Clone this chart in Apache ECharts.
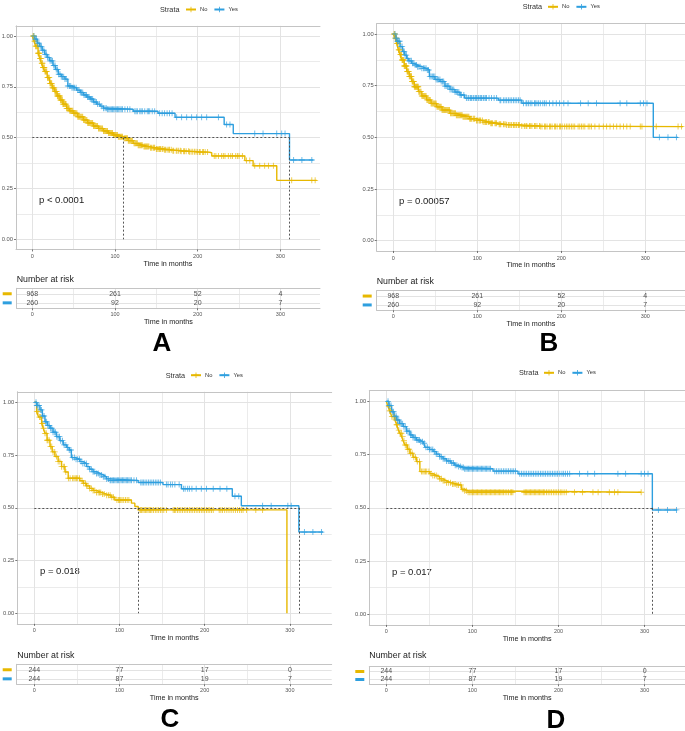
<!DOCTYPE html>
<html>
<head>
<meta charset="utf-8">
<script src="https://cdn.jsdelivr.net/npm/echarts@6/dist/echarts.min.js"></script>
<style>
  html, body { margin: 0; padding: 0; background: #fff; }
  #km { width: 685px; height: 731px; }
</style>
</head>
<body>
<div id="km"></div>
<script>
// colours of the two strata
const COL_NO = '#E7B800';
const COL_YES = '#2E9FDF';
const strata = ['No', 'Yes'];

// axis ticks
const xTicks = [0, 100, 200, 300];
const xMinor = [50, 150, 250];
const yTicks = [0, 0.25, 0.5, 0.75, 1];
const yMinor = [0.125, 0.375, 0.625, 0.875];

// ---- panel A : KM curves [months, survival] ----
const aNo = [[0,1],[2,0.975],[4,0.95],[7,0.915],[9,0.89],[11,0.866],[13,0.845],[15,0.825],[18,0.795],[21,0.767],[24,0.745],[27,0.726],[30,0.705],[33.5,0.685],[37,0.665],[41.5,0.644],[45,0.632],[49.6,0.62],[55,0.603],[61.7,0.587],[67,0.572],[73.8,0.557],[80,0.545],[86,0.533],[92,0.523],[98,0.513],[104,0.505],[110,0.497],[116,0.485],[122,0.472],[128,0.463],[134,0.456],[142,0.45],[150,0.444],[160,0.44],[170,0.436],[180,0.433],[190,0.431],[200,0.429],[213,0.426],[217,0.41],[257,0.387],[267,0.362],[295.6,0.29],[344,0.29]];
const aYes = [[0,1],[3,0.985],[6,0.965],[9,0.948],[12,0.93],[15,0.91],[18,0.895],[21,0.878],[25,0.855],[28,0.835],[31.5,0.812],[35,0.8],[39.5,0.788],[43,0.754],[48,0.745],[53.6,0.734],[58,0.722],[62,0.71],[66,0.7],[70,0.69],[74,0.675],[78,0.665],[82,0.655],[86,0.645],[90,0.64],[122,0.63],[152,0.62],[172.6,0.6],[232,0.565],[243,0.52],[311,0.39],[340,0.39]];
const aNoCens = [1,1.8,2.5,3.3,4,4.8,5.5,6.3,7,7.8,8.5,9.3,10,10.8,11.5,12.3,13,13.8,14.5,15.3,16,16.8,17.5,18.3,19,19.8,20.5,21.3,22,22.8,23.5,24.3,25,25.8,26.5,27.3,28,28.8,29.5,30.3,31,31.8,32.5,33.3,34,34.8,35.5,36.3,37,37.8,38.5,39.3,40,40.8,41.5,42.3,43,43.8,44.5,45.3,46,47,48,49,50,51,52,53,54,55,56,57,58,59,60,61,62,63,64,65,66,67,68,69,70,71,72,73,74,75,76,77,78,79,80,81,82,83,84,85,86,87,88,89,90,91,92,93,94,95,96,97,98,99,100,101,102,103,104,105,106,107,108,109,111,112,113,114,115,116,117,118,119,120,121,123,124,125,126,127,128,129,130,131,132,133,135,136,137,138,139,140,141,143,144,146,147,148,150,151,153,154,155,157,158,160,161,163,165,166,168,170,171,174,175,177,179,180,183,184,186,189,190,192,194,196,198,200,202,203,206,207,209,212,220,222,225,229,231,233,237,240,242,246,248,250,254,259,263,269,275,281,285.5,291.5,313.7,338,342];
const aYesCens = [2,3.5,5,6.5,8,9.5,11,12.5,14,15.5,17,18.5,20,21.5,23,24.5,26,27.5,29,30.5,32,33.5,35,36.5,38,39.5,41,43,45,46.5,48,49.5,51,53,55,56.5,58,59.5,61,62.5,64,65.5,67,68.5,70,71.5,73,74.5,76,77.5,79,81,84,86,88,89.5,91,92.5,94,95.5,97,98.5,100,101.5,103,104.5,106,107.5,109,112,115,118,124,125.5,127,130,131.5,133,136,139,140.5,142,145,148,154,157,160,163,166,169,174.6,180.6,186.7,192.7,198.8,204.8,210.9,225,235,239,269,279,295.6,301.6,305.6,316,326,338];
const aMedian = [110, 311];

// ---- panel B ----
const bNo = [[0,1],[2,0.98],[4,0.955],[6,0.923],[8,0.9],[10,0.874],[13,0.845],[15.9,0.818],[19,0.795],[21.8,0.77],[25,0.745],[29.8,0.721],[34,0.7],[39.7,0.681],[45,0.664],[51.6,0.648],[58,0.632],[67.5,0.616],[75,0.607],[83,0.6],[91,0.59],[99,0.581],[107,0.574],[115,0.568],[125,0.563],[135,0.56],[151,0.555],[175,0.552],[345,0.552]];
const bYes = [[0,1],[3,0.98],[5,0.965],[8,0.939],[11,0.915],[13.5,0.898],[15.9,0.882],[18.5,0.87],[21.8,0.858],[25,0.85],[27.8,0.842],[33.7,0.834],[39.7,0.826],[43,0.794],[49.6,0.78],[55.6,0.77],[61.5,0.748],[67.5,0.732],[73.4,0.719],[79.4,0.705],[85,0.69],[125,0.68],[153,0.665],[309.5,0.5],[339,0.5]];
const bNoCens = [1,1.7,2.4,3,3.7,4.4,5,5.7,6.4,7,7.7,8.4,9,9.7,10.4,11,11.7,12.4,13,13.7,14.4,15,15.7,16.4,17,17.7,18.4,19,19.7,20.4,21,21.7,22.4,23,23.7,24.4,25,25.7,26.4,27,27.7,28.4,29,29.7,30.4,31,32,33,34,35,36,37,38,39,40,41,42,43,44,45,46,47,48,49,50,51,52,53,54,55,56,57,58,59,60,61,62,63,64,65,66,67,68,69,70,71,72,73,74,75,76,77,78,79,80,81,82,83,84,85,86,87,88,89,90,91,92,93,95,96,97,99,100,102,103,104,106,107,109,110,111,113,114,116,117,118,121,122,123,126,127,128,131,132,134,135,137,138,140,141,143,144,146,147,149,150,153,156,158,159,162,163,165,168,169,171,174,175,177,180,181,183,186,187,189,192,193,195,198,199,201,204,206,208,210,212,214,216,220,222,224,226,228,232,234,236,240,245,250,254,258,262,266,270,274,278,282,294,296,313,339,343];
const bYesCens = [2,3,4,5,6,7.5,9,10.5,12,13,14,15.5,17,18.5,20,21.5,23,24.5,26,27.5,29,30.5,32,34,36,37.5,39,40.5,42,43.5,45,46.5,48,49.5,51,52.5,54,55.5,57,58.5,60,61.5,63,64.5,66,67.5,69,70.5,72,73.5,75,76.5,78,79.5,81,84,87,89,90,92,93,95,96,98,99,101,102,104,105,107,108,110,111,114,117,120,123,127,128,131,133,135,137,139,141,143,145,147,149,151,155,158,159,161,163,165,168,169,171,173,175,178,180,182,186,190,194,198,203,208,223,232,242,270,278,294,298,302,316.7,327,337];
const bMedian = [];

// ---- panel C ----
const cNo = [[0,1],[2.7,0.956],[5,0.93],[8.6,0.9],[10.5,0.877],[12.5,0.853],[15,0.82],[18.4,0.79],[21,0.765],[24.2,0.743],[28,0.72],[32,0.695],[36,0.67],[39.8,0.64],[53.5,0.628],[57.4,0.616],[61,0.604],[65,0.592],[69,0.582],[73,0.573],[79,0.565],[84.8,0.56],[90,0.55],[94.5,0.537],[114,0.522],[118,0.506],[122,0.49],[296.5,0]];
const cYes = [[0,1],[3,0.985],[6.6,0.964],[9.5,0.935],[12.5,0.908],[15.5,0.89],[18.4,0.877],[22,0.858],[26,0.837],[30,0.818],[34,0.798],[38,0.786],[41,0.774],[43.5,0.738],[48,0.73],[53.5,0.719],[57,0.71],[61.3,0.695],[65,0.683],[69,0.671],[73,0.663],[77,0.656],[81,0.647],[84.8,0.637],[88.7,0.63],[121.9,0.62],[151,0.61],[172.7,0.59],[232.4,0.555],[243,0.51],[310.5,0.385],[339,0.385]];
const cNoCens = [3,4.5,6,7.5,9,10,11,12.5,14,15,16,17.5,19,20.5,22,24,26,28,30,32,34,35.5,37,40,42,45,46.5,48,49.5,51,53,56,58,60,61.5,63,65,67,69,71,73,75,76.5,78,80,82,85,87,89,91,93,97,99,100,101.5,103,105,107,109,111,124,125,126,127.5,129,130.5,132,133.5,135,136.5,138,140,142,144,146,148,150,152,155,163,164.5,166,168,170,172,174,176,178,180,182,184,186,188,190,192,194,196,198,200,202,204,206,208,210,217,219,221,223.5,226,228.5,231,233.5,236,238.5,241,243,245,249,260,268];
const cYesCens = [2,3,4,5.5,7,8.5,10,11.5,13,14.5,16,17.5,19,20.5,22,23.5,25,26.5,28,29.5,31,33,35,37,39,41,43,45,47,49,51,53,55,57,59,61,63,65,67,69,71,73,75,77,79,81,83,85,87,89,90,91.5,93,94.5,96,97.5,99,100.5,102,103.5,105,106.5,108,109.5,111,112.5,114,117,120,125,126.5,128,130,132,134,136,138,140,142,144,146,148,155,157,160,162,165,170,175,177,180,182,185,190,196,202,210,218,226,235.5,240,268,278,297.6,301.5,317,327,337];
const cMedian = [122, 310.5];

// ---- panel D ----
const dNo = [[0,1],[2,0.975],[4,0.955],[6.2,0.928],[10,0.912],[12,0.89],[14,0.865],[16,0.85],[17.8,0.834],[19.5,0.815],[21.6,0.795],[24.5,0.775],[27.4,0.756],[31,0.737],[35,0.717],[39,0.67],[50.6,0.66],[54,0.652],[58.3,0.646],[62,0.636],[66,0.627],[70,0.618],[75,0.612],[81.5,0.607],[87.3,0.587],[91,0.58],[95,0.573],[296,0.573]];
const dYes = [[0,1],[3,0.98],[6.2,0.951],[9,0.93],[12,0.912],[15.5,0.895],[19.7,0.881],[23.5,0.86],[27.4,0.842],[31,0.83],[35,0.818],[39,0.81],[42.9,0.803],[45,0.784],[50,0.774],[54.4,0.764],[58,0.752],[62,0.74],[66,0.73],[70,0.72],[75,0.71],[79.5,0.7],[83,0.694],[87.3,0.689],[90,0.683],[124,0.672],[153,0.66],[309,0.49],[338,0.49]];
const dNoCens = [3,4,5,6.5,8,9.5,11,12,13,14.5,16,17.5,19,20.5,22,23.5,25,26.5,28,30,32,34,36,38.5,41,42.5,44,45.5,47,49.5,52,54,56,58,60,62,64,66,68,70,72,74.5,77,78.5,80,82,84,86.5,89,91,93,95,97,98.5,100,101.5,103,104.5,106,107.5,109,110.5,112,113.5,115,116.5,118,119.5,121,122.5,124,125.5,127,128.5,130,131.5,133,134.5,136,138,140,142,144,145.5,147,160,161.5,163,164.5,166,167.5,169,170.5,172,173.5,175,176.5,178,179.5,181,182.5,184,186,188,190,192,194,196,198,200,202,204,206.5,209,218.5,228,240,246,259,265,269,296];
const dYesCens = [2,3,4,5.5,7,8.5,10,11.5,13,14.5,16,17.5,19,20.5,22,23.5,25,26.5,28,29.5,31,32.5,34,35.5,37,38.5,40,42,44,46,48,50,52,54,56,58,60,62,64,66,68,70,72,74,76,78,80,82,84,86,88,89.5,91,92.5,94,95.5,97,98.5,100,101.5,103,104.5,106,107.5,109,110.5,112,113.5,115,116.5,118,119.5,121,126,128,130,132,134,136,138,140,142,144,146,148,150,155,157,159,161,163,165,167,169,171,173,175,177,179,181,183,185,187,189,191,193,195,197,199,201.5,204,206,208,210.5,213,224.5,234,242,269,278,296,300,304,316,326.6,337];
const dMedian = [309];

// number at risk (at xTicks)
const abRiskNo = [968, 261, 52, 4];
const abRiskYes = [260, 92, 20, 7];
const cdRiskNo = [244, 77, 17, 0];
const cdRiskYes = [244, 87, 19, 7];

const pValues = ['p < 0.0001', 'p = 0.00057', 'p = 0.018', 'p = 0.017'];
const letters = ['A', 'B', 'C', 'D'];

// pixel layout measured on the figure
const layouts = [
  { x0: 32.3, ppm: 0.827, left: 16, right: 320, y1: 36, y0: 239.3, tLeft: 16.7, tTop: 288.3, tBot: 308.3,
    nar: [16.7, 280], pv: [39, 200], letter: [162, 344], strataTxt: [160, 10], leg: [185, 10] },
  { x0: 393.3, ppm: 0.84, left: 376.7, right: 685, y1: 34, y0: 240.7, tLeft: 376.7, tTop: 290.7, tBot: 310.3,
    nar: [376.7, 281.7], pv: [399, 201], letter: [549, 344], strataTxt: [522.7, 7.3], leg: [547, 7.3] },
  { x0: 34.3, ppm: 0.852, left: 17.3, right: 331.7, y1: 402.3, y0: 613.3, tLeft: 16.7, tTop: 664.3, tBot: 684.3,
    nar: [17.3, 656], pv: [40, 571.7], letter: [170, 720], strataTxt: [165.7, 375.7], leg: [190, 375.7] },
  { x0: 386.3, ppm: 0.861, left: 369.3, right: 685, y1: 401.3, y0: 614.3, tLeft: 369.3, tTop: 666.7, tBot: 684.3,
    nar: [369.3, 656], pv: [392, 572.3], letter: [556, 721], strataTxt: [519, 373.3], leg: [543, 373.3] }
];

const panels = [
  { no: aNo, yes: aYes, noC: aNoCens, yesC: aYesCens, med: aMedian, rNo: abRiskNo, rYes: abRiskYes },
  { no: bNo, yes: bYes, noC: bNoCens, yesC: bYesCens, med: bMedian, rNo: abRiskNo, rYes: abRiskYes },
  { no: cNo, yes: cYes, noC: cNoCens, yesC: cYesCens, med: cMedian, rNo: cdRiskNo, rYes: cdRiskYes },
  { no: dNo, yes: dYes, noC: dNoCens, yesC: dYesCens, med: dMedian, rNo: cdRiskNo, rYes: cdRiskYes }
];

const FONT = 'Liberation Sans, Arial, sans-serif';
const GRID = '#e3e3e3';
const BORDER = '#c4c4c4';
const CROSS = 'path://M0,4.3H10V5.7H0Z M4.3,0H5.7V10H4.3Z';

function survAt(curve, t) {
  let s = curve[0][1];
  for (const [ti, si] of curve) {
    if (ti <= t) s = si; else break;
  }
  return s;
}

function bottomX(gi, min, max, margin, gap) {
  return {
    type: 'value', gridIndex: gi, min: min, max: max, position: 'bottom',
    name: 'Time in months', nameLocation: 'middle', nameGap: gap,
    nameTextStyle: { fontSize: 7.2, color: '#1a1a1a', fontFamily: FONT },
    axisLine: { show: true, onZero: false, lineStyle: { color: BORDER, width: 1 } },
    axisTick: { show: true, length: 2, customValues: xTicks, lineStyle: { color: '#555', width: 0.8 } },
    axisLabel: { customValues: xTicks, margin: margin, fontSize: 5.5, color: '#555', fontFamily: FONT },
    splitLine: { show: true, lineStyle: { color: GRID, width: 1 } }
  };
}
function topX(gi, min, max) {
  return {
    type: 'value', gridIndex: gi, min: min, max: max, position: 'top',
    axisLine: { show: true, onZero: false, lineStyle: { color: BORDER, width: 1 } },
    axisTick: { show: false, customValues: xMinor },
    axisLabel: { show: false },
    splitLine: { show: true, lineStyle: { color: GRID, width: 0.7 } }
  };
}

const grid = [], xAxis = [], yAxis = [], series = [], legend = [], graphic = [];

panels.forEach((p, i) => {
  const L = layouts[i];
  const xMin = (L.left - L.x0) / L.ppm;
  const xMax = (L.right - L.x0) / L.ppm;
  const tMin = (L.tLeft - L.x0) / L.ppm;
  const u = L.y0 - L.y1;
  grid.push({ left: L.left, top: L.y1 - 0.05 * u, width: L.right - L.left, height: 1.1 * u, outerBoundsMode: 'none' });
  grid.push({ left: L.tLeft, top: L.tTop, width: L.right - L.tLeft, height: L.tBot - L.tTop, outerBoundsMode: 'none' });
  const gm = 2 * i, gt = 2 * i + 1;
  const xm = 4 * i, xt = 4 * i + 2, ym = 3 * i, yt = 3 * i + 2;

  xAxis.push(bottomX(gm, xMin, xMax, 4, 10.5));
  xAxis.push(topX(gm, xMin, xMax));
  xAxis.push(bottomX(gt, tMin, xMax, 3.5, 10));
  xAxis.push(topX(gt, tMin, xMax));

  yAxis.push({
    type: 'value', gridIndex: gm, min: -0.05, max: 1.05, position: 'left',
    axisLine: { show: true, onZero: false, lineStyle: { color: BORDER, width: 1 } },
    axisTick: { show: true, length: 2, customValues: yTicks, lineStyle: { color: '#555', width: 0.8 } },
    axisLabel: { customValues: yTicks, formatter: v => v.toFixed(2), margin: 3, fontSize: 5.8, color: '#555', fontFamily: FONT },
    splitLine: { show: true, lineStyle: { color: GRID, width: 1 } }
  });
  yAxis.push({
    type: 'value', gridIndex: gm, min: -0.05, max: 1.05, position: 'right',
    axisLine: { show: false }, axisTick: { show: false, customValues: yMinor }, axisLabel: { show: false },
    splitLine: { show: true, lineStyle: { color: GRID, width: 0.7 } }
  });
  yAxis.push({
    type: 'value', gridIndex: gt, min: 0.4, max: 2.6, position: 'left',
    axisLine: { show: true, onZero: false, lineStyle: { color: BORDER, width: 1 } },
    axisTick: { show: false, customValues: [1, 2] },
    axisLabel: {
      customValues: [1, 2], margin: 5, hideOverlap: false, fontSize: 3, lineHeight: 3,
      formatter: v => (v === 2 ? '{no|}' : '{yes|}'),
      rich: {
        no: { backgroundColor: COL_NO, width: 9, height: 3, lineHeight: 3 },
        yes: { backgroundColor: COL_YES, width: 9, height: 3, lineHeight: 3 }
      }
    },
    splitLine: { show: true, lineStyle: { color: GRID, width: 1 } }
  });

  // median lines
  const medLines = [];
  if (p.med.length) {
    medLines.push([{ coord: [0, 0.5] }, { coord: [Math.max(...p.med), 0.5] }]);
    p.med.forEach(m => medLines.push([{ coord: [m, 0.5] }, { coord: [m, 0] }]));
  }

  [['No', p.no, p.noC, COL_NO], ['Yes', p.yes, p.yesC, COL_YES]].forEach(([name, curve, cens, col], k) => {
    series.push({
      type: 'line', name: name, xAxisIndex: xm, yAxisIndex: ym, data: curve, step: 'end',
      symbol: CROSS, showSymbol: false, color: col,
      lineStyle: { color: col, width: 1.4 }, itemStyle: { color: col },
      z: 3, silent: true,
      markLine: k === 1 ? {
        silent: true, symbol: ['none', 'none'], label: { show: false },
        lineStyle: { color: '#444', type: [2, 2], width: 0.9 }, data: medLines, z: 5
      } : undefined
    });
    series.push({
      type: 'scatter', name: name, xAxisIndex: xm, yAxisIndex: ym,
      data: cens.map(t => [t, survAt(curve, t)]),
      symbol: CROSS, symbolSize: 6, itemStyle: { color: col }, z: 4, silent: true
    });
  });

  // number at risk table
  series.push({
    type: 'scatter', xAxisIndex: xt, yAxisIndex: yt, silent: true,
    data: xTicks.map((t, k) => [t, 2, p.rNo[k]]).concat(xTicks.map((t, k) => [t, 1, p.rYes[k]])),
    symbolSize: 0,
    label: { show: true, position: 'inside', formatter: q => String(q.value[2]), fontSize: 7, color: '#1a1a1a', fontFamily: FONT }
  });

  legend.push({
    data: strata, left: L.leg[0], top: L.leg[1] - 3.5, orient: 'horizontal', padding: 0,
    itemWidth: 10, itemHeight: 7, itemGap: 6, selectedMode: false,
    textStyle: { fontSize: 5.8, color: '#333', fontFamily: FONT, padding: [0, 0, 0, -1] }
  });

  const txt = (x, y, text, size, extra) => graphic.push({
    type: 'text', x: x, y: y, silent: true,
    style: Object.assign({ text: text, fontSize: size, fontFamily: FONT, fill: '#1a1a1a',
      align: 'left', textAlign: 'left', verticalAlign: 'middle', textVerticalAlign: 'middle' }, extra || {})
  });
  txt(L.strataTxt[0], L.strataTxt[1], 'Strata', 7.3, { fill: '#333' });
  txt(L.nar[0], L.nar[1], 'Number at risk', 8.8);
  txt(L.pv[0], L.pv[1], pValues[i], 9.5);
  txt(L.letter[0], L.letter[1], letters[i], 26, { fontWeight: 'bold', fill: '#000', align: 'center', textAlign: 'center' });
});

const chart = echarts.init(document.getElementById('km'));
chart.setOption({
  backgroundColor: '#fff',
  animation: false,
  color: [COL_NO, COL_YES],
  grid: grid,
  xAxis: xAxis,
  yAxis: yAxis,
  legend: legend,
  series: series,
  graphic: graphic
});
</script>
</body>
</html>
